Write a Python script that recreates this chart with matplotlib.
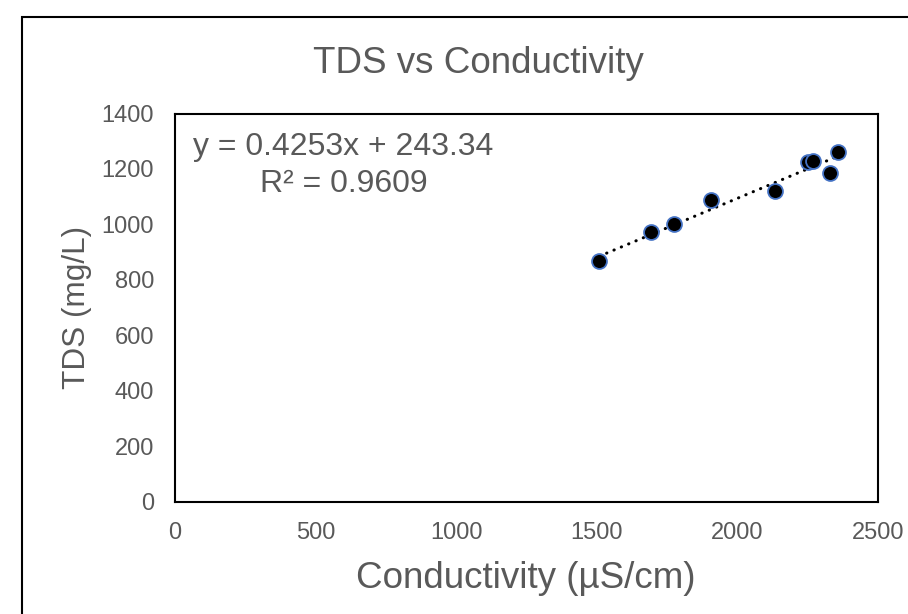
import numpy as np
import matplotlib
matplotlib.use("Agg")
import matplotlib.pyplot as plt
from matplotlib.patches import Rectangle

plt.rcParams['font.family'] = ['Liberation Sans', 'DejaVu Sans']

# data
conductivity = [1509, 1693, 1775, 1905, 2134, 2250, 2270, 2329, 2357]
tds = [868, 971, 1000, 1088, 1120, 1224, 1229, 1187, 1262]

# trendline reported on the chart
slope = 0.4253
intercept = 243.34
r_squared = 0.9609

x_ticks = [0, 500, 1000, 1500, 2000, 2500]
y_ticks = [0, 200, 400, 600, 800, 1000, 1200, 1400]

grey = '#595959'

fig = plt.figure(figsize=(9.08, 6.14), dpi=100)
ax = fig.add_axes([0.1927, 0.1832, 0.7742, 0.6319])

# outer chart border (cut off at right/bottom in the reference)
fig.patches.append(Rectangle((22/908, -0.2), 1.5, 0.2 + 1 - 17/614,
                             transform=fig.transFigure, fill=False,
                             edgecolor='black', lw=1.5))

xs = np.array([min(conductivity), max(conductivity)])
ax.plot(xs, slope*xs + intercept, color='black', lw=2.2,
        linestyle=(0, (0.1, 2.5)), dash_capstyle='round', zorder=2)
ax.scatter(conductivity, tds, s=115, c='black', edgecolors='#4472C4',
           linewidths=1.3, zorder=3)

ax.set_xlim(0, 2500)
ax.set_ylim(0, 1400)
ax.set_xticks(x_ticks)
ax.set_yticks(y_ticks)
ax.tick_params(length=0, pad=15, labelsize=17, labelcolor=grey)
for sp in ax.spines.values():
    sp.set_color('black')
    sp.set_linewidth(1.5)

ax.text(0.2397, 0.893, f'y = {slope}x + {intercept}', transform=ax.transAxes,
        ha='center', va='baseline', fontsize=23, color=grey)
ax.text(0.2397, 0.798, f'R² = {r_squared}', transform=ax.transAxes,
        ha='center', va='baseline', fontsize=23, color=grey)

fig.text(478/908, 1 - 72.7/614, 'TDS vs Conductivity', ha='center',
         va='baseline', fontsize=26.5, color=grey)
fig.text(526/908, 1 - 588/614, 'Conductivity (µS/cm)', ha='center',
         va='baseline', fontsize=26.5, color=grey)
fig.text(77/908, 1 - 307.5/614, 'TDS (mg/L)', ha='center', va='center',
         rotation=90, fontsize=22.7, color=grey)

fig.savefig('out.png', dpi=100)
